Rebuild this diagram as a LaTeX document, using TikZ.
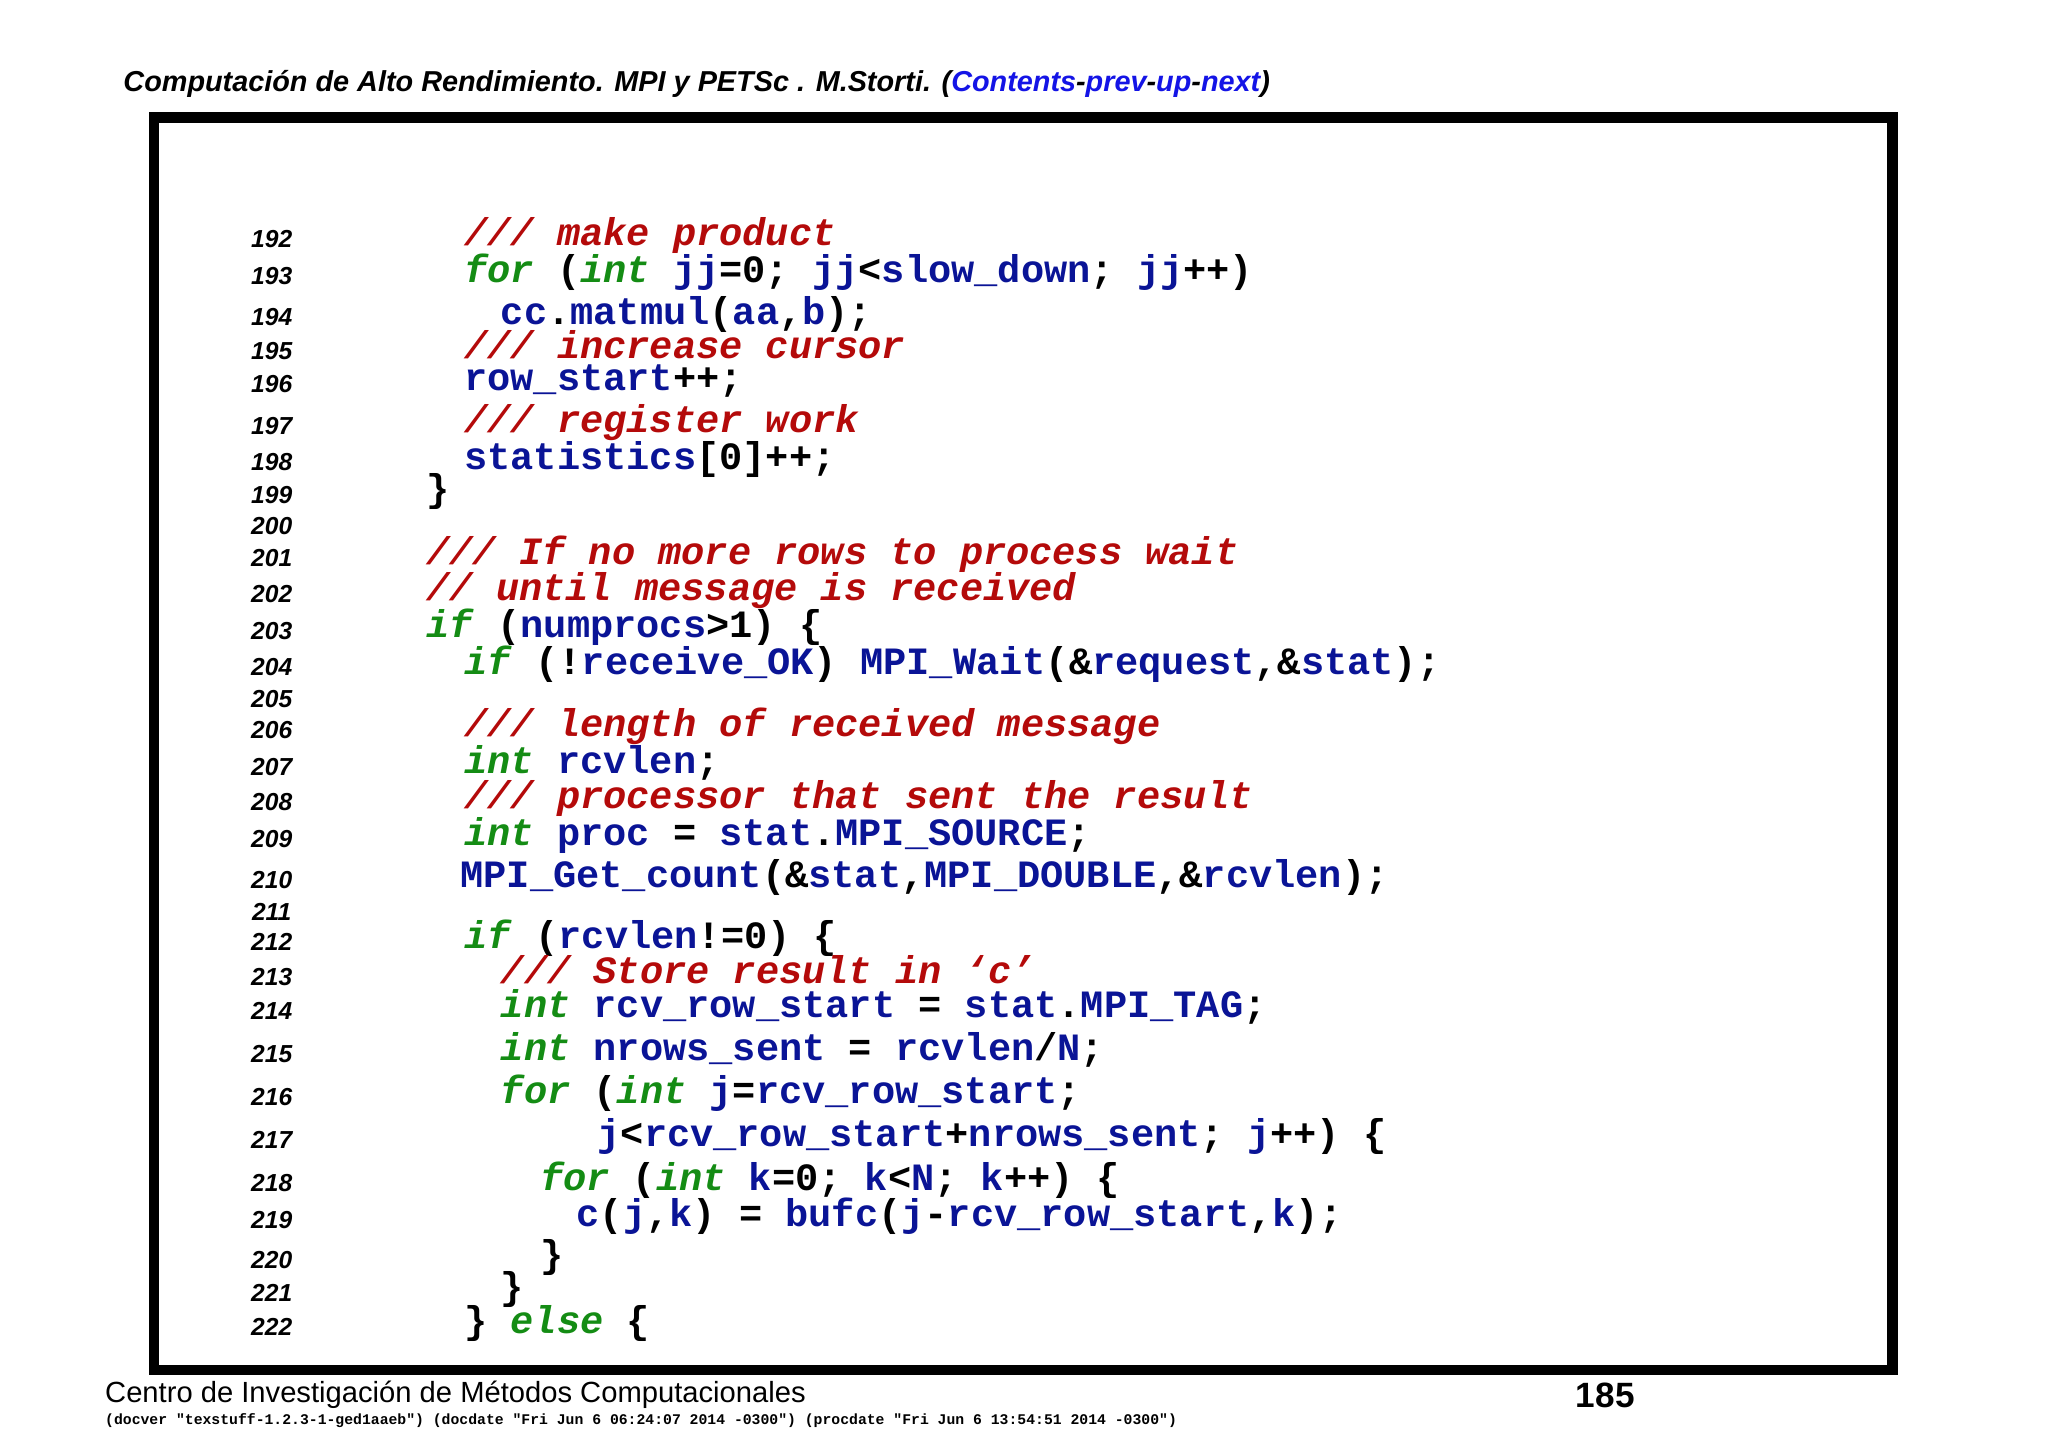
\documentclass[tikz,border=0pt]{standalone}
\usepackage{fontspec}
\setmainfont{Liberation Sans}
\setmonofont{Liberation Mono}
\usetikzlibrary{positioning}
\definecolor{kwgreen}{RGB}{20,140,20}
\definecolor{idblue}{RGB}{10,20,150}
\definecolor{cmred}{RGB}{180,10,10}
\definecolor{linkblue}{RGB}{20,20,230}
\newcommand{\kw}[1]{\textcolor{kwgreen}{\textit{#1}}}
\newcommand{\vr}[1]{\textcolor{idblue}{#1}}
\newcommand{\cmt}[1]{\textcolor{cmred}{\textit{#1}}}

\begin{document}
\begin{tikzpicture}[
    x=0.013061cm, y=-0.013061cm,
    header/.style={
        anchor=west, inner sep=0pt,
        font=\fontsize{8.2}{10}\selectfont\bfseries\itshape
    },
    lineno/.style={
        inner sep=0pt,
        font=\fontsize{7}{8}\selectfont\bfseries\itshape
    },
    codeline/.style={
        anchor=mid west, inner sep=0pt,
        font=\fontsize{11}{13}\selectfont\ttfamily\bfseries
    }
    ]
    \useasboundingbox (0,0) rectangle (1568,1109);

    % header line
    \node[header] (title) at (94,64) {Computación de Alto Rendimiento. MPI y PETSc . M.Storti. (\textcolor{linkblue}{Contents}-\textcolor{linkblue}{prev}-\textcolor{linkblue}{up}-\textcolor{linkblue}{next})};

    % frame
    \draw[line width=3pt] (118,90) rectangle (1449,1049);

    % listing
    \foreach \n/\x/\y/\t in {
        192/355/181/{\cmt{/// make product}},
        193/355/209/{\kw{for} (\kw{int} \vr{jj}=0; \vr{jj}<\vr{slow\_down}; \vr{jj}++)},
        194/383/241/{\vr{cc}.\vr{matmul}(\vr{aa},\vr{b});},
        195/355/267/{\cmt{/// increase cursor}},
        196/355/292/{\vr{row\_start}++;},
        197/355/324/{\cmt{/// register work}},
        198/355/352/{\vr{statistics}[0]++;},
        199/326/377/{\}},
        200/326/401/{},
        201/326/425/{\cmt{/// If no more rows to process wait}},
        202/326/453/{\cmt{// until message is received}},
        203/326/481/{\kw{if} (\vr{numprocs}>1) \{},
        204/355/509/{\kw{if} (!\vr{receive\_OK}) \vr{MPI\_Wait}(\&\vr{request},\&\vr{stat});},
        205/355/533/{},
        206/355/557/{\cmt{/// length of received message}},
        207/355/585/{\kw{int} \vr{rcvlen};},
        208/355/612/{\cmt{/// processor that sent the result}},
        209/355/640/{\kw{int} \vr{proc} = \vr{stat}.\vr{MPI\_SOURCE};},
        210/352/672/{\vr{MPI\_Get\_count}(\&\vr{stat},\vr{MPI\_DOUBLE},\&\vr{rcvlen});},
        211/355/696/{},
        212/355/719/{\kw{if} (\vr{rcvlen}!=0) \{},
        213/383/746/{\cmt{/// Store result in ‘c’}},
        214/383/772/{\kw{int} \vr{rcv\_row\_start} = \vr{stat}.\vr{MPI\_TAG};},
        215/383/805/{\kw{int} \vr{nrows\_sent} = \vr{rcvlen}/\vr{N};},
        216/383/838/{\kw{for} (\kw{int} \vr{j}=\vr{rcv\_row\_start};},
        217/457/871/{\vr{j}<\vr{rcv\_row\_start}+\vr{nrows\_sent}; \vr{j}++) \{},
        218/413/904/{\kw{for} (\kw{int} \vr{k}=0; \vr{k}<\vr{N}; \vr{k}++) \{},
        219/441/932/{\vr{c}(\vr{j},\vr{k}) = \vr{bufc}(\vr{j}-\vr{rcv\_row\_start},\vr{k});},
        220/413/963/{\}},
        221/383/988/{\}},
        222/355/1014/{\} \kw{else} \{}
    }{
        \node[lineno] (ln\n) at (208,\y+2) {\n};
        \node[codeline] (code\n) at (\x,\y) {\t};
    }

    % footer
    \node[anchor=west, inner sep=0pt, font=\fontsize{8.3}{10}\selectfont] (centro) at (80,1068) {Centro de Investigación de Métodos Computacionales};
    \node[anchor=east, inner sep=0pt, font=\fontsize{10}{12}\selectfont\bfseries] (page) at (1252,1068) {185};
    \node[anchor=west, inner sep=0pt, font=\fontsize{4.2}{5}\selectfont\ttfamily\bfseries] (docver) at (80,1088) {(docver "texstuff-1.2.3-1-ged1aaeb") (docdate "Fri Jun 6 06:24:07 2014 -0300") (procdate "Fri Jun 6 13:54:51 2014 -0300")};
\end{tikzpicture}
\end{document}
